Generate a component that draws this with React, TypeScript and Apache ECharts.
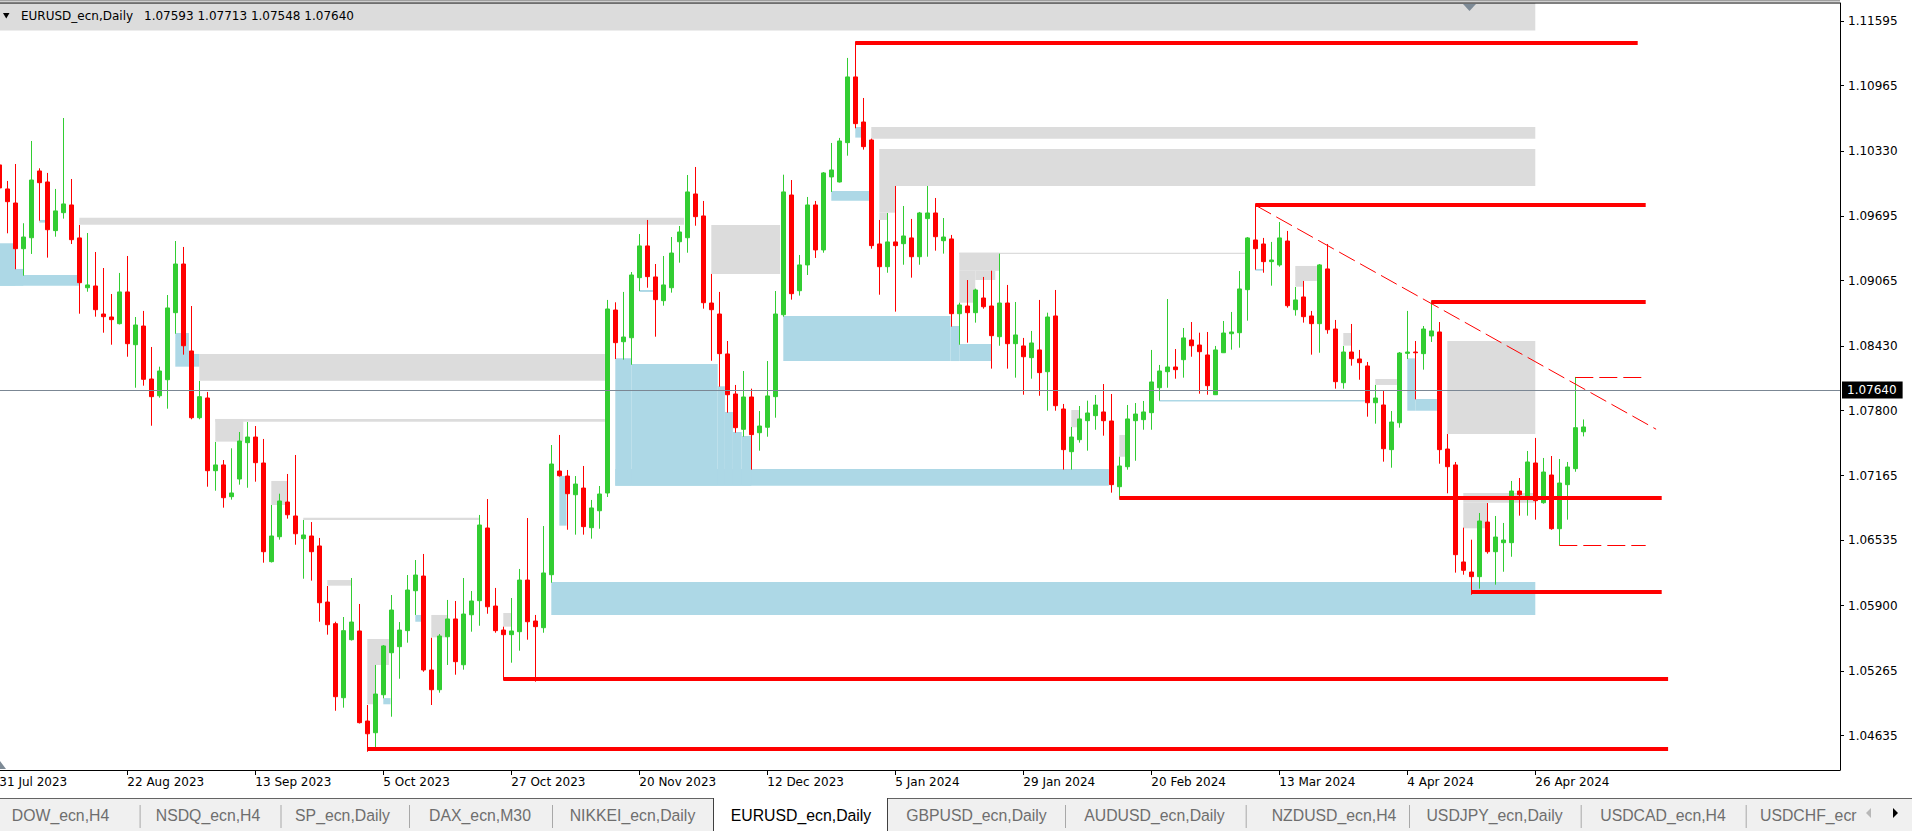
import React, { useEffect, useRef } from "react";
import * as echarts from "echarts";

const symbolName = "EURUSD_ecn,Daily";

const opens = [
  1.10192, 1.09958, 1.09821, 1.09376, 1.09483, 1.10133, 1.10026, 1.09552, 1.09727, 1.09802,
  1.09481, 1.08996, 1.09013, 1.0874, 1.08711, 1.08646, 1.08955, 1.08441, 1.08623, 1.08107,
  1.07944, 1.081, 1.08753, 1.09227, 1.0838, 1.0773, 1.07922, 1.07214, 1.0727, 1.06961,
  1.07133, 1.07487, 1.07542, 1.07289, 1.06328, 1.06571, 1.06909, 1.06773, 1.06552, 1.06578,
  1.06481, 1.05935, 1.05724, 1.05003, 1.05568, 1.05653, 1.04776, 1.04662, 1.05032, 1.05441,
  1.055, 1.05656, 1.06045, 1.06188, 1.05273, 1.05081, 1.05597, 1.0577, 1.05324, 1.05811,
  1.05948, 1.06656, 1.05896, 1.05662, 1.05617, 1.05646, 1.06149, 1.0575, 1.05685, 1.06201,
  1.07211, 1.07162, 1.0698, 1.07045, 1.06659, 1.06824, 1.06997, 1.08779, 1.0847, 1.08509,
  1.09094, 1.09403, 1.09101, 1.0887, 1.08996, 1.09444, 1.09483, 1.09909, 1.09695, 1.08847,
  1.0874, 1.08351, 1.07961, 1.07617, 1.07932, 1.07584, 1.07637, 1.07935, 1.08733, 1.09899,
  1.08967, 1.09218, 1.09802, 1.09364, 1.10075, 1.10026, 1.10409, 1.11049, 1.1061, 1.10435,
  1.09422, 1.09201, 1.09442, 1.09425, 1.09481, 1.09298, 1.09669, 1.09724, 1.09454, 1.09471,
  1.08743, 1.08818, 1.08753, 1.08896, 1.08818, 1.08519, 1.08847, 1.08451, 1.08429, 1.08315,
  1.0839, 1.08178, 1.08721, 1.07815, 1.07399, 1.07516, 1.07701, 1.0775, 1.07786, 1.07698,
  1.07058, 1.07253, 1.07701, 1.07711, 1.07779, 1.08022, 1.08178, 1.08224, 1.08295, 1.08487,
  1.08438, 1.08341, 1.07954, 1.08363, 1.08548, 1.08558, 1.08977, 1.09461, 1.09422, 1.0925,
  1.09218, 1.09451, 1.08782, 1.08906, 1.08721, 1.08646, 1.09179, 1.08594, 1.08071, 1.0837,
  1.08302, 1.08234, 1.07876, 1.07854, 1.07419, 1.07681, 1.08357, 1.0837, 1.08354, 1.08526,
  1.08565, 1.07425, 1.0727, 1.06325, 1.06227, 1.06182, 1.06714, 1.06425, 1.06513, 1.06513,
  1.07016, 1.06941, 1.07289, 1.06902, 1.07172, 1.06649, 1.07078, 1.07234, 1.07593,
];

const highs = [
  1.1024, 1.10036, 1.10201, 1.09624, 1.10425, 1.10159, 1.10114, 1.09958, 1.10649, 1.10055,
  1.09607, 1.09529, 1.09344, 1.09188, 1.08935, 1.0914, 1.09305, 1.08711, 1.0877, 1.08419,
  1.08227, 1.08925, 1.09451, 1.09393, 1.08818, 1.08088, 1.07981, 1.07494, 1.07318, 1.07432,
  1.07591, 1.07688, 1.07649, 1.07523, 1.0688, 1.0699, 1.07182, 1.07367, 1.06734, 1.06714,
  1.06559, 1.06091, 1.05743, 1.05789, 1.06169, 1.05916, 1.04932, 1.05322, 1.05516, 1.06003,
  1.0574, 1.06198, 1.06344, 1.06403, 1.05587, 1.05623, 1.05955, 1.05945, 1.06169, 1.06042,
  1.06783, 1.06938, 1.06072, 1.05695, 1.05974, 1.06257, 1.06753, 1.05809, 1.06675, 1.07464,
  1.07562, 1.07221, 1.07162, 1.0726, 1.06929, 1.07065, 1.08877, 1.08854, 1.08955, 1.09149,
  1.09519, 1.09656, 1.09227, 1.09305, 1.0949, 1.09597, 1.10094, 1.10172, 1.09841, 1.0913,
  1.08955, 1.08477, 1.08049, 1.08185, 1.08013, 1.07795, 1.08282, 1.08964, 1.10097, 1.10045,
  1.09315, 1.0988, 1.09841, 1.10123, 1.10406, 1.10455, 1.11234, 1.11392, 1.10844, 1.10448,
  1.09656, 1.09724, 1.09987, 1.09792, 1.09666, 1.09734, 1.09987, 1.0987, 1.09675, 1.0951,
  1.0885, 1.09071, 1.08987, 1.09101, 1.09162, 1.09328, 1.09023, 1.08857, 1.08507, 1.08575,
  1.08877, 1.08753, 1.08974, 1.07864, 1.0764, 1.07844, 1.07896, 1.07951, 1.08058, 1.07961,
  1.0735, 1.07854, 1.07873, 1.07893, 1.0839, 1.08244, 1.08886, 1.08399, 1.08604, 1.08662,
  1.08558, 1.08565, 1.08429, 1.08672, 1.0876, 1.09159, 1.0949, 1.0981, 1.09481, 1.09442,
  1.09636, 1.09549, 1.09003, 1.09062, 1.0877, 1.09227, 1.09422, 1.08682, 1.08429, 1.08643,
  1.0839, 1.08273, 1.08049, 1.0799, 1.07795, 1.0837, 1.0877, 1.08477, 1.08623, 1.08867,
  1.08662, 1.07571, 1.07299, 1.06659, 1.06542, 1.06802, 1.06899, 1.06773, 1.06705, 1.07114,
  1.07143, 1.07406, 1.07533, 1.07338, 1.07357, 1.07328, 1.07299, 1.08127, 1.07713,
];

const lows = [
  1.0989, 1.09526, 1.09176, 1.09113, 1.09325, 1.09649, 1.09289, 1.09493, 1.09669, 1.09422,
  1.08743, 1.08957, 1.08714, 1.08558, 1.08441, 1.08638, 1.08324, 1.08022, 1.08042, 1.07652,
  1.07925, 1.07818, 1.08548, 1.08344, 1.07715, 1.07715, 1.07058, 1.07019, 1.06854, 1.06932,
  1.07078, 1.07048, 1.07107, 1.06318, 1.0632, 1.06542, 1.06747, 1.06493, 1.06162, 1.06143,
  1.05743, 1.05617, 1.04876, 1.04906, 1.0556, 1.04752, 1.04477, 1.04506, 1.04997, 1.04818,
  1.05188, 1.05539, 1.05809, 1.05256, 1.04932, 1.05052, 1.05322, 1.05227, 1.05276, 1.05646,
  1.05704, 1.05821, 1.05636, 1.05175, 1.05344, 1.05461, 1.05568, 1.05159, 1.05636, 1.06123,
  1.07156, 1.06639, 1.06591, 1.06591, 1.06552, 1.06649, 1.06958, 1.08302, 1.08295, 1.08246,
  1.08964, 1.08996, 1.08519, 1.08821, 1.08948, 1.0924, 1.09337, 1.096, 1.08792, 1.08285,
  1.08032, 1.07779, 1.07584, 1.07545, 1.07224, 1.07409, 1.07545, 1.0773, 1.08714, 1.0888,
  1.08919, 1.0912, 1.09286, 1.09337, 1.09929, 1.10021, 1.10282, 1.10549, 1.10341, 1.09376,
  1.08928, 1.09142, 1.08763, 1.0922, 1.09094, 1.0922, 1.09298, 1.09357, 1.09328, 1.08617,
  1.08441, 1.08461, 1.08656, 1.08792, 1.08208, 1.08431, 1.08208, 1.0812, 1.07954, 1.0811,
  1.07944, 1.07798, 1.07798, 1.07224, 1.07224, 1.07487, 1.07409, 1.07613, 1.07555, 1.07,
  1.06941, 1.07224, 1.07311, 1.07613, 1.07613, 1.07896, 1.08022, 1.0811, 1.0812, 1.08324,
  1.07964, 1.07954, 1.07951, 1.0836, 1.08393, 1.08412, 1.08675, 1.09172, 1.09142, 1.09016,
  1.09201, 1.08802, 1.08724, 1.08656, 1.08344, 1.08363, 1.08548, 1.08013, 1.08013, 1.08237,
  1.081, 1.0774, 1.07672, 1.07302, 1.07243, 1.07633, 1.08302, 1.07909, 1.08198, 1.08468,
  1.07282, 1.06994, 1.06221, 1.06201, 1.06006, 1.06065, 1.06406, 1.06104, 1.0623, 1.06376,
  1.06776, 1.06776, 1.06737, 1.06893, 1.06639, 1.0649, 1.06737, 1.07204, 1.07548,
];

const closes = [
  1.09968, 1.09834, 1.09376, 1.0949, 1.10045, 1.10019, 1.09561, 1.09744, 1.09812, 1.09464,
  1.09045, 1.09023, 1.08782, 1.08714, 1.08685, 1.08955, 1.08451, 1.08633, 1.08104, 1.07935,
  1.08185, 1.08799, 1.09227, 1.08431, 1.0773, 1.07935, 1.07214, 1.0727, 1.06951, 1.06997,
  1.07503, 1.07542, 1.07292, 1.06425, 1.06578, 1.06919, 1.06785, 1.066, 1.06588, 1.06425,
  1.05928, 1.05714, 1.05013, 1.05656, 1.0574, 1.0476, 1.04652, 1.05039, 1.05507, 1.05857,
  1.05662, 1.06052, 1.06198, 1.05273, 1.05081, 1.05604, 1.0577, 1.05354, 1.05818, 1.05945,
  1.06685, 1.05889, 1.05656, 1.05617, 1.05653, 1.06149, 1.05743, 1.05695, 1.06218, 1.07279,
  1.07165, 1.0699, 1.07084, 1.06669, 1.06851, 1.06987, 1.08789, 1.08461, 1.08516, 1.0912,
  1.09403, 1.09104, 1.0888, 1.09023, 1.09334, 1.09539, 1.09929, 1.09688, 1.0885, 1.08782,
  1.08354, 1.07954, 1.07633, 1.07932, 1.07565, 1.07649, 1.07942, 1.0874, 1.09929, 1.08938,
  1.09218, 1.09802, 1.09364, 1.10114, 1.10143, 1.10425, 1.11049, 1.10594, 1.1037, 1.09406,
  1.09201, 1.09442, 1.09406, 1.095, 1.09298, 1.09724, 1.09724, 1.09493, 1.0949, 1.08743,
  1.08828, 1.08753, 1.08974, 1.08811, 1.08529, 1.08847, 1.08451, 1.08536, 1.08324, 1.08458,
  1.08169, 1.08711, 1.07847, 1.07419, 1.07542, 1.07718, 1.07776, 1.07854, 1.07701, 1.07078,
  1.0726, 1.07718, 1.07766, 1.07786, 1.08078, 1.08185, 1.08224, 1.08198, 1.08507, 1.08431,
  1.08373, 1.08042, 1.0839, 1.08555, 1.08565, 1.08984, 1.09481, 1.09376, 1.0925, 1.09266,
  1.09481, 1.08821, 1.08877, 1.08714, 1.08646, 1.09218, 1.08587, 1.08081, 1.0837, 1.08305,
  1.08266, 1.07876, 1.07922, 1.07428, 1.07688, 1.0836, 1.0837, 1.08363, 1.08594, 1.08575,
  1.07419, 1.07253, 1.06396, 1.06244, 1.06182, 1.06724, 1.06425, 1.06568, 1.06539, 1.07016,
  1.0698, 1.07299, 1.06922, 1.07201, 1.06649, 1.07094, 1.0725, 1.07633, 1.0764,
];

const xTickIndex = [0, 16, 32, 48, 64, 80, 96, 112, 128, 144, 160, 176, 192];
const xTickLabels = [
  "31 Jul 2023", "22 Aug 2023", "13 Sep 2023", "5 Oct 2023", "27 Oct 2023", "20 Nov 2023",
  "12 Dec 2023", "5 Jan 2024", "29 Jan 2024", "20 Feb 2024", "13 Mar 2024", "4 Apr 2024", "26 Apr 2024",
];
const yTickValues = [
  1.04635, 1.05265, 1.059, 1.06535, 1.07165, 1.078, 1.0843, 1.09065, 1.09695, 1.1033, 1.10965, 1.11595,
];

// zones: [fromBar, toBar, upperPrice, lowerPrice]
const grayZones = [
  [0, 192, 1.118, 1.11502],
  [109, 192, 1.10561, 1.10448],
  [110, 192, 1.10347, 1.09987],
  [110, 112, 1.09987, 1.09727],
  [110, 111, 1.09727, 1.09656],
  [10, 85.6, 1.09678, 1.0961],
  [25, 75.7, 1.08351, 1.0809],
  [27, 30.5, 1.07718, 1.07497],
  [27, 75.7, 1.07718, 1.07691],
  [34, 36, 1.07114, 1.0688],
  [38, 60, 1.06756, 1.06734],
  [41, 44, 1.06149, 1.06094],
  [46, 48.7, 1.05575, 1.05322],
  [46, 47, 1.05322, 1.04939],
  [54, 56, 1.05809, 1.05591],
  [63, 64, 1.05828, 1.05695],
  [89, 97.6, 1.09607, 1.0913],
  [120, 125, 1.09337, 1.09162],
  [120, 122, 1.09162, 1.0885],
  [122, 124.5, 1.09162, 1.09071],
  [120, 155.7, 1.09337, 1.09325],
  [134, 135, 1.07805, 1.07637],
  [140, 140.8, 1.07562, 1.0735],
  [162, 164.7, 1.09208, 1.09062],
  [162, 163, 1.09062, 1.09006],
  [168, 169, 1.08555, 1.08432],
  [172, 174.7, 1.08107, 1.08049],
  [181, 192, 1.08477, 1.07571],
  [183, 192, 1.06997, 1.06902],
  [183, 186, 1.06902, 1.06653],
];

const blueZones = [
  [0, 2, 1.09429, 1.09016],
  [0, 3, 1.09179, 1.09016],
  [0, 10, 1.0912, 1.09016],
  [5, 5.75, 1.09656, 1.0963],
  [22, 23.7, 1.08555, 1.08227],
  [23.7, 25, 1.08351, 1.08227],
  [48, 48.9, 1.04999, 1.04939],
  [52, 52.8, 1.05809, 1.05743],
  [69, 192, 1.0613, 1.05809],
  [70, 70.9, 1.07162, 1.06679],
  [77, 138.7, 1.07231, 1.07068],
  [77, 79, 1.08309, 1.07068],
  [79, 89.8, 1.08253, 1.07068],
  [89.8, 90.7, 1.08036, 1.07068],
  [90.7, 91.7, 1.07786, 1.07068],
  [91.7, 92.8, 1.07591, 1.07068],
  [92.8, 94, 1.07552, 1.07068],
  [80, 82, 1.08974, 1.08955],
  [98, 118.9, 1.08721, 1.08282],
  [118.9, 120, 1.08623, 1.08282],
  [120, 124, 1.08448, 1.08282],
  [104, 108.7, 1.09938, 1.09844],
  [107, 107.8, 1.10561, 1.10458],
  [145, 170.7, 1.07903, 1.07888],
  [157, 158, 1.09179, 1.09162],
  [176, 177, 1.08308, 1.07798],
  [177, 179.7, 1.07912, 1.07798],
];

// solid levels: [fromBar, toBar, price]
const redLevels = [
  [107, 204.8, 1.11385],
  [157, 205.8, 1.09805],
  [179, 205.8, 1.0886],
  [140, 207.8, 1.0695],
  [184, 207.8, 1.06035],
  [63, 208.6, 1.0519],
  [46, 208.6, 1.04505],
];
// dashed levels: [fromBar, toBar, price]
const dashedLevels = [
  [197, 205.4, 1.08127],
  [195, 205.8, 1.0649],
];
const trendLine = [
  [157, 1.098],
  [207.1, 1.07618],
];

const tabNames = [
  "DOW_ecn,H4", "NSDQ_ecn,H4", "SP_ecn,Daily", "DAX_ecn,M30", "NIKKEI_ecn,Daily", "EURUSD_ecn,Daily",
  "GBPUSD_ecn,Daily", "AUDUSD_ecn,Daily", "NZDUSD_ecn,H4", "USDJPY_ecn,Daily", "USDCAD_ecn,H4", "USDCHF_ecr",
];
const activeTab = 5;

export default function App() {
  const ref = useRef<HTMLDivElement>(null);

  useEffect(() => {
    if (!ref.current) return;
    const chart = echarts.init(ref.current, null, { renderer: "svg" });
    const last = closes.length - 1;
    const candles = opens.map((o, i) => [i, o, closes[i], lows[i], highs[i]]);
    const labelMap: Record<number, string> = {};
    xTickIndex.forEach((v, i) => (labelMap[v] = xTickLabels[i]));

    const zoneItem = (z: number[], color: string) => [
      { xAxis: z[0], yAxis: z[2], itemStyle: { color, opacity: 1, borderWidth: 0 } },
      { xAxis: z[1], yAxis: z[3] },
    ];

    const RED = "#ff0000";
    const lineData: any[] = [];
    redLevels.forEach((l) =>
      lineData.push([
        { coord: [l[0], l[2]], lineStyle: { color: RED, width: 4, type: "solid" } },
        { coord: [l[1], l[2]] },
      ])
    );
    dashedLevels.forEach((l) =>
      lineData.push([
        { coord: [l[0], l[2]], lineStyle: { color: RED, width: 1, type: [18, 6] } },
        { coord: [l[1], l[2]] },
      ])
    );
    lineData.push([
      { coord: trendLine[0], lineStyle: { color: RED, width: 1, type: [18, 6] } },
      { coord: trendLine[1] },
    ]);
    lineData.push({
      yAxis: closes[last],
      lineStyle: { color: "#7b8794", width: 1, type: "solid" },
      label: {
        show: true,
        position: "end",
        formatter: closes[last].toFixed(5),
        color: "#fff",
        backgroundColor: "#000",
        padding: [3, 6, 2, 5],
        distance: 2,
        fontSize: 12,
        fontFamily: "DejaVu Sans",
      },
    });

    const font = "DejaVu Sans";
    const tabFont = '17px "Liberation Sans"';
    const tabCenters = [60.5, 208, 342.5, 480, 632.5, 801, 976.5, 1154.5, 1334, 1494.5, 1663];
    const tabSeparators = [139.6, 280.5, 409, 552, 1065, 1245.7, 1409, 1580.7, 1745.7];

    const graphics: any[] = [
      // top frame
      { type: "rect", z: 20, silent: true, shape: { x: 0, y: 0, width: 1840, height: 1.5 }, style: { fill: "#a0a0a0" } },
      { type: "line", z: 20, silent: true, shape: { x1: 0, y1: 3, x2: 1840, y2: 3 }, style: { stroke: "#000", lineWidth: 1 } },
      // title
      { type: "polygon", z: 20, silent: true, shape: { points: [[3, 13], [9.5, 13], [6.25, 18.5]] }, style: { fill: "#000" } },
      {
        type: "text", z: 20, silent: true, x: 21, y: 16,
        style: { text: symbolName, fill: "#000", font: `12px "${font}"`, align: "left", verticalAlign: "middle", textAlign: "left", textVerticalAlign: "middle" },
      },
      {
        type: "text", z: 20, silent: true, x: 144, y: 16,
        style: {
          text: [opens[last], highs[last], lows[last], closes[last]].map((v) => v.toFixed(5)).join(" "),
          fill: "#000", font: `12px "${font}"`, align: "left", verticalAlign: "middle", textAlign: "left", textVerticalAlign: "middle",
        },
      },
      // chart-shift markers
      { type: "polygon", z: 20, silent: true, shape: { points: [[1463, 4], [1476, 4], [1469.5, 11]] }, style: { fill: "#7d8a96" } },
      { type: "polygon", z: 20, silent: true, shape: { points: [[0, 761], [6, 769], [0, 769]] }, style: { fill: "#7d8a96" } },
      // tab bar
      { type: "rect", z: 20, silent: true, shape: { x: 0, y: 798, width: 1912, height: 33 }, style: { fill: "#f0f0f0" } },
      { type: "line", z: 21, silent: true, shape: { x1: 0, y1: 798.5, x2: 1912, y2: 798.5 }, style: { stroke: "#646464", lineWidth: 1 } },
      { type: "rect", z: 22, silent: true, shape: { x: 713, y: 798, width: 175, height: 33 }, style: { fill: "#fff" } },
      { type: "line", z: 23, silent: true, shape: { x1: 713.5, y1: 798, x2: 713.5, y2: 831 }, style: { stroke: "#404040", lineWidth: 1 } },
      { type: "line", z: 23, silent: true, shape: { x1: 887.5, y1: 798, x2: 887.5, y2: 831 }, style: { stroke: "#404040", lineWidth: 1 } },
      { type: "polygon", z: 23, silent: true, shape: { points: [[1871, 808], [1871, 818], [1866, 813]] }, style: { fill: "#b8b8b8" } },
      { type: "polygon", z: 23, silent: true, shape: { points: [[1893, 808], [1893, 818], [1898, 813]] }, style: { fill: "#000" } },
    ];
    tabSeparators.forEach((sx) =>
      graphics.push({
        type: "line", z: 23, silent: true,
        shape: { x1: sx + 0.5, y1: 805, x2: sx + 0.5, y2: 828 },
        style: { stroke: "#a8a8a8", lineWidth: 1 },
      })
    );
    tabNames.forEach((name, i) => {
      const isLast = i === tabNames.length - 1;
      graphics.push({
        type: "text", z: 24, silent: true,
        x: isLast ? 1760 : tabCenters[i], y: 815, scaleX: 0.93,
        style: {
          text: name,
          fill: i === activeTab ? "#000" : "#6e6e6e",
          font: tabFont,
          align: isLast ? "left" : "center",
          textAlign: isLast ? "left" : "center",
          verticalAlign: "middle",
          textVerticalAlign: "middle",
        },
      });
    });

    const option: any = {
      animation: false,
      backgroundColor: "#fff",
      grid: { left: -4.7, right: 72, top: 3, bottom: 61, containLabel: false, outerBoundsMode: "none", show: false },
      xAxis: {
        type: "value",
        min: -0.5,
        max: 230.0875,
        axisLine: { show: true, onZero: false, lineStyle: { color: "#000", width: 1 } },
        axisTick: { show: true, customValues: xTickIndex, length: 5, lineStyle: { color: "#000" } },
        axisLabel: {
          show: true,
          customValues: xTickIndex,
          formatter: (v: number) => labelMap[Math.round(v)] || "",
          align: "left",
          color: "#000",
          fontSize: 12,
          fontFamily: font,
          margin: 6,
        },
        splitLine: { show: false },
      },
      yAxis: {
        type: "value",
        position: "right",
        min: 1.04299,
        max: 1.11769,
        axisLine: { show: true, onZero: false, lineStyle: { color: "#000", width: 1 } },
        axisTick: { show: true, customValues: yTickValues, length: 4, lineStyle: { color: "#000" } },
        axisLabel: {
          show: true,
          customValues: yTickValues,
          formatter: (v: number) => v.toFixed(5),
          color: "#000",
          fontSize: 12,
          fontFamily: font,
          margin: 8,
        },
        splitLine: { show: false },
      },
      graphic: { elements: graphics },
      series: [
        {
          type: "candlestick",
          data: candles,
          encode: { x: 0, y: [1, 2, 3, 4] },
          barWidth: 4,
          clip: true,
          itemStyle: {
            color: "#32cd32",
            color0: "#ff0000",
            borderColor: "#32cd32",
            borderColor0: "#ff0000",
            borderWidth: 1,
          },
          markArea: {
            silent: true,
            label: { show: false },
            data: [
              ...grayZones.map((z) => zoneItem(z, "#dcdcdc")),
              ...blueZones.map((z) => zoneItem(z, "#add8e6")),
            ],
          },
          markLine: {
            silent: true,
            symbol: ["none", "none"],
            label: { show: false },
            data: lineData,
          },
        },
      ],
    };
    chart.setOption(option);
    return () => chart.dispose();
  }, []);

  return (
    <div
      ref={ref}
      style={{ position: "fixed", left: 0, top: 0, width: 1912, height: 831, background: "#fff" }}
    />
  );
}
